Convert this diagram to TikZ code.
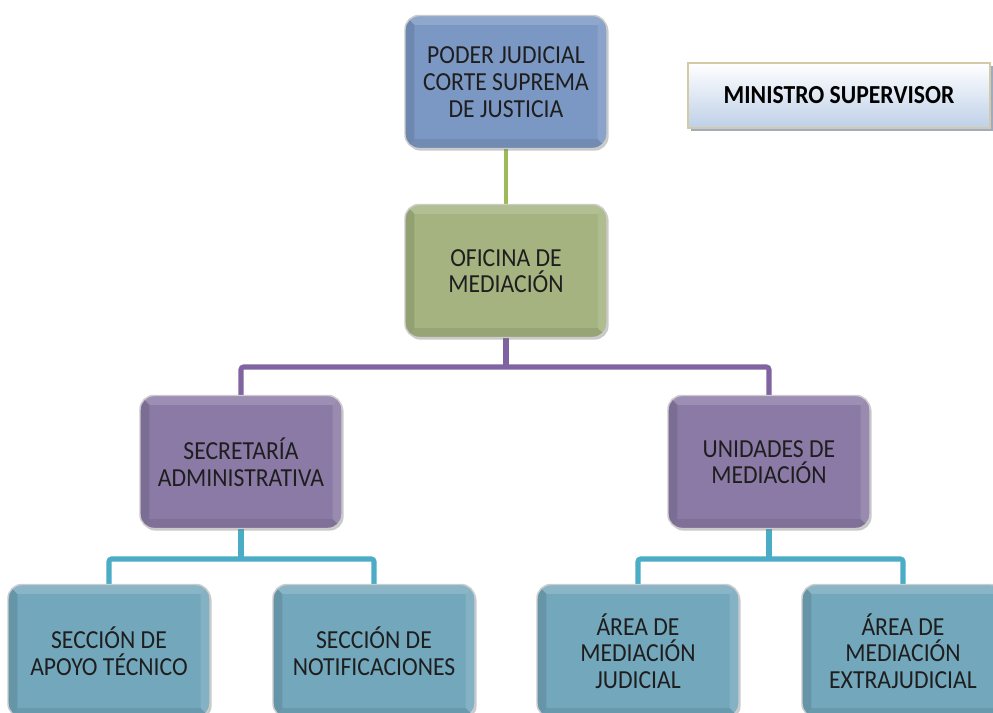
\documentclass[tikz,border=0pt]{standalone}
\usepackage{fontspec}
\setmainfont{Carlito}[FakeStretch=0.91]
\usetikzlibrary{shadows,calc}
\pgfdeclarelayer{bg}
\pgfdeclarelayer{background}
\pgfsetlayers{bg,background,main}
\definecolor{cPoder}{HTML}{7B97C3}
\definecolor{cOfic}{HTML}{A4B37F}
\definecolor{cPurp}{HTML}{8B7AA6}
\definecolor{cTeal}{HTML}{73A7BC}
\definecolor{lGreen}{HTML}{9BBB59}
\definecolor{lPurp}{HTML}{8064A2}
\definecolor{lBlue}{HTML}{4BACC6}
\definecolor{mTop}{HTML}{FFFFFF}
\definecolor{mBot}{HTML}{BED0E8}
\definecolor{mBorder}{HTML}{D5CAA6}
\definecolor{mShadow}{HTML}{8D9EB8}
\definecolor{txt}{HTML}{1E1E1E}
\tikzset{
  orgbox/.style={rounded corners=10.5pt, minimum width=151.5pt, minimum height=99.75pt,
    inner sep=0pt, align=center, fill=#1, draw=black!20, line width=1.1pt, text=txt,
    font=\fontsize{19.5pt}{20pt}\selectfont,
    drop shadow={shadow xshift=1.2pt, shadow yshift=-1.6pt, opacity=0.35, fill=black!60},
    path picture={
      \coordinate (NW) at (path picture bounding box.north west);
      \coordinate (NE) at (path picture bounding box.north east);
      \coordinate (SW) at (path picture bounding box.south west);
      \coordinate (SE) at (path picture bounding box.south east);
      \fill[white, opacity=0.16, sharp corners] (NW) -- (NE) -- ([shift={(-7pt,-7pt)}]NE) -- ([shift={(7pt,-7pt)}]NW) -- cycle;
      \fill[white, opacity=0.12, sharp corners] (NE) -- (SE) -- ([shift={(-7pt,7pt)}]SE) -- ([shift={(-7pt,-7pt)}]NE) -- cycle;
      \fill[black, opacity=0.08, sharp corners] (SE) -- (SW) -- ([shift={(7pt,7pt)}]SW) -- ([shift={(-7pt,7pt)}]SE) -- cycle;
      \fill[black, opacity=0.10, sharp corners] (SW) -- (NW) -- ([shift={(7pt,-7pt)}]NW) -- ([shift={(7pt,7pt)}]SW) -- cycle;
    }},
  minibox/.style={minimum width=226.5pt, minimum height=48.75pt, inner sep=0pt,
    top color=mTop, bottom color=mBot, draw=mBorder, line width=1.5pt, text=black,
    font=\fontsize{19.5pt}{20pt}\selectfont\bfseries,
    drop shadow={shadow xshift=2.2pt, shadow yshift=-2.4pt, opacity=0.85, fill=mShadow}},
  gline/.style={draw=lGreen, line width=3.3pt},
  pline/.style={draw=lPurp, line width=3.8pt, rounded corners=2pt},
  bline/.style={draw=lBlue, line width=3.8pt, rounded corners=2pt}
}
\begin{document}
\begin{tikzpicture}[x=0.75pt, y=-0.75pt]
\useasboundingbox (0,0) rectangle (993,713);
\begin{pgfonlayer}{bg}
\fill[white] (0,0) rectangle (993,713);
\end{pgfonlayer}
\clip (0,0) rectangle (993,713);

\node[orgbox=cPoder] (poder) at (506,82) {PODER JUDICIAL\\CORTE SUPREMA\\DE JUSTICIA};
\node[minibox] (min) at (839,95.5) {MINISTRO SUPERVISOR};
\node[orgbox=cOfic] (oficina) at (506,271) {OFICINA DE\\MEDIACIÓN};
\node[orgbox=cPurp] (secret) at (241,462) {SECRETARÍA\\ADMINISTRATIVA};
\node[orgbox=cPurp] (unidades) at (769,462) {UNIDADES DE\\MEDIACIÓN};
\node[orgbox=cTeal] (apoyo) at (109,651) {SECCIÓN DE\\APOYO TÉCNICO};
\node[orgbox=cTeal] (notif) at (374,651) {SECCIÓN DE\\NOTIFICACIONES};
\node[orgbox=cTeal] (judicial) at (638,651) {ÁREA DE\\MEDIACIÓN\\JUDICIAL};
\node[orgbox=cTeal] (extra) at (903,651) {ÁREA DE\\MEDIACIÓN\\EXTRAJUDICIAL};

\coordinate (m1) at (506,367);
\coordinate (m2) at (241,559);
\coordinate (m3) at (769,559);

\begin{pgfonlayer}{background}
\draw[gline] (poder.south) -- (oficina.north);
\draw[pline] (oficina.south) -- (m1);
\draw[pline] (secret.north) |- (m1) -| (unidades.north);
\draw[bline] (secret.south) -- (m2);
\draw[bline] (apoyo.north) |- (m2) -| (notif.north);
\draw[bline] (unidades.south) -- (m3);
\draw[bline] (judicial.north) |- (m3) -| (extra.north);
\end{pgfonlayer}
\end{tikzpicture}
\end{document}
